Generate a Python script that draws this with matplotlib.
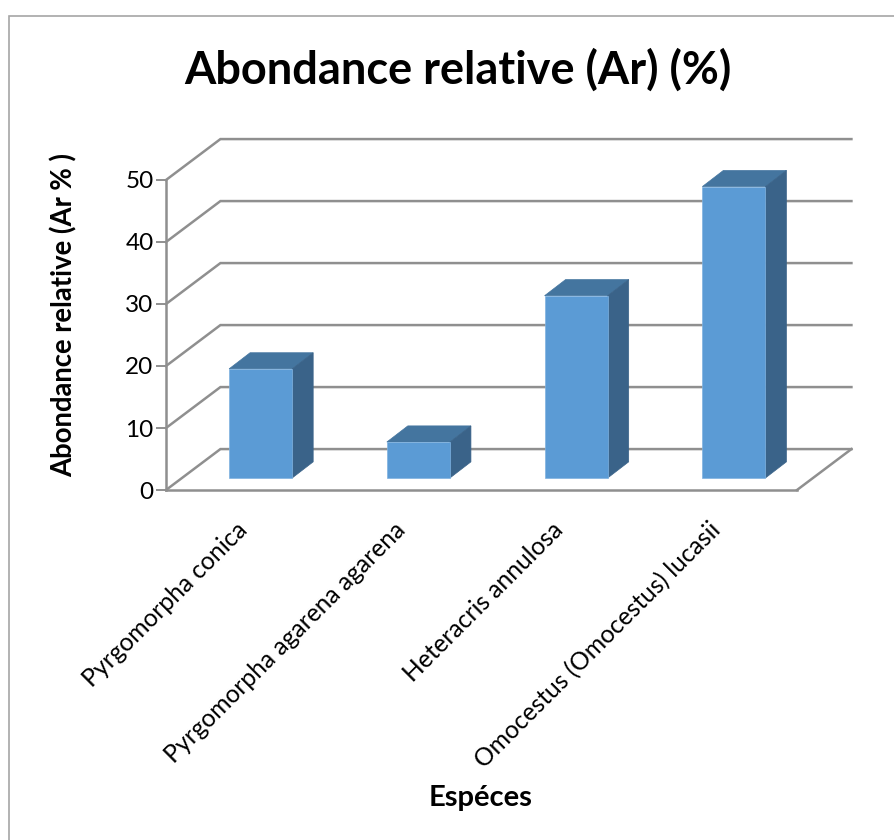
import numpy as np
import matplotlib
matplotlib.use("Agg")
import matplotlib.pyplot as plt
from matplotlib.patches import Polygon
from matplotlib.lines import Line2D

species = ["Pyrgomorpha conica", "Pyrgomorpha agarena agarena",
           "Heteracris annulosa", "Omocestus (Omocestus) lucasii"]
abundance = [17.6, 5.8, 29.4, 47.0]
y_ticks = [0, 10, 20, 30, 40, 50]

FACE = "#5B9BD5"
TOP = "#44759F"
SIDE = "#3A6389"
LINE = "#8F8F8F"

plt.rcParams["font.family"] = ["Lato", "DejaVu Sans"]

W, H = 894, 840
fig = plt.figure(figsize=(W / 100, H / 100), dpi=100, facecolor="white")
# chart frame is cut off by the image on the right and bottom
fig.add_artist(Line2D([9 / W, 9 / W, 1], [0, 1 - 15.5 / H, 1 - 15.5 / H], transform=fig.transFigure,
                      color="#A6A6A6", lw=1.2, solid_joinstyle="miter"))

# axes = front plane of the fake 3D box, offsets below are in data units
ax = fig.add_axes([166 / W, 1 - 490 / H, 631 / W, 310 / H])
ax.set_xlim(0, 4)
ax.set_ylim(0, 50)
ax.patch.set_alpha(0)

depth_x = 0.345
depth_y = 6.6

for v in y_ticks:
    ax.plot([0, depth_x, 4 + depth_x], [v, v + depth_y, v + depth_y],
            color=LINE, lw=1.8, clip_on=False, solid_joinstyle="miter", zorder=1)
ax.plot([4, 4 + depth_x], [0, depth_y], color=LINE, lw=1.8, clip_on=False, zorder=1)

lift = 1.94
bar_w = 0.4
bar_dx = 0.133
bar_dy = 2.6
x = np.arange(len(species)) + 0.5
bar_x = x + 0.1

ax.bar(bar_x, abundance, bottom=lift, width=bar_w, color=FACE, edgecolor="#7FB2E0",
       linewidth=0.5, zorder=3)
for bx, v in zip(bar_x, abundance):
    left, right = bx - bar_w / 2, bx + bar_w / 2
    top = lift + v
    ax.add_patch(Polygon([(left, top), (right, top), (right + bar_dx, top + bar_dy),
                          (left + bar_dx, top + bar_dy)], closed=True, facecolor=TOP,
                         edgecolor=TOP, linewidth=0.5, clip_on=False, zorder=2))
    ax.add_patch(Polygon([(right, lift), (right + bar_dx, lift + bar_dy),
                          (right + bar_dx, top + bar_dy), (right, top)], closed=True,
                         facecolor=SIDE, edgecolor=SIDE, linewidth=0.5, clip_on=False, zorder=2))

for s in ["top", "right"]:
    ax.spines[s].set_visible(False)
for s in ["left", "bottom"]:
    ax.spines[s].set_color(LINE)
    ax.spines[s].set_linewidth(1.8)

ax.set_yticks(y_ticks)
ax.tick_params(axis="y", length=7, width=1.4, color=LINE, labelsize=17.5, pad=2)
ax.set_xticks(x - 0.06)
ax.set_xticklabels(species, rotation=45, ha="right", va="top", rotation_mode="anchor", fontsize=17.7)
ax.tick_params(axis="x", length=0, pad=20)

fig.text(458 / W, 1 - 70 / H, "Abondance relative (Ar) (%)", ha="center", va="center",
         fontsize=32.5, fontweight="bold")
fig.text(64 / W, 1 - 315 / H, "Abondance relative (Ar % )", ha="center", va="center",
         rotation=90, fontsize=19.8, fontweight="bold")
fig.text(481 / W, 1 - 798 / H, "Espéces", ha="center", va="center", fontsize=21, fontweight="bold")

fig.savefig("out.png", dpi=100)
